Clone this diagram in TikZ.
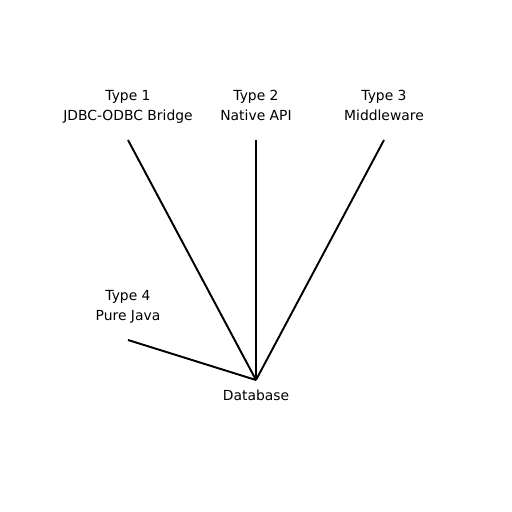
\documentclass[tikz,border=0pt]{standalone}
\usepackage{fontspec}
\setmainfont{DejaVu Sans}
\begin{document}
\begin{tikzpicture}[x=0.02cm,y=-0.02cm]
			\tikzstyle{every node}+=[inner sep=0pt, align=center, font=\fontsize{7.9}{11.2}\selectfont]
			\tikzstyle{link}=[black, line width=1.1pt]
			\useasboundingbox (0,0) rectangle (512,512);
			\coordinate (t1) at (128,140);
			\coordinate (t2) at (256,140);
			\coordinate (t3) at (384,140);
			\coordinate (t4) at (128,340);
			\coordinate (db) at (256,380);
			\draw (128,106.4) node (l1) {Type 1\strut\\JDBC-ODBC Bridge\strut};
			\draw (256,106.4) node (l2) {Type 2\strut\\Native API\strut};
			\draw (384,106.4) node (l3) {Type 3\strut\\Middleware\strut};
			\draw (128,306.4) node (l4) {Type 4\strut\\Pure Java\strut};
			\draw (256,396.2) node (ldb) {Database\strut};
			\draw [link] (t1) -- (db);
			\draw [link] (t2) -- (db);
			\draw [link] (t3) -- (db);
			\draw [link] (t4) -- (db);
			\end{tikzpicture}
\end{document}
